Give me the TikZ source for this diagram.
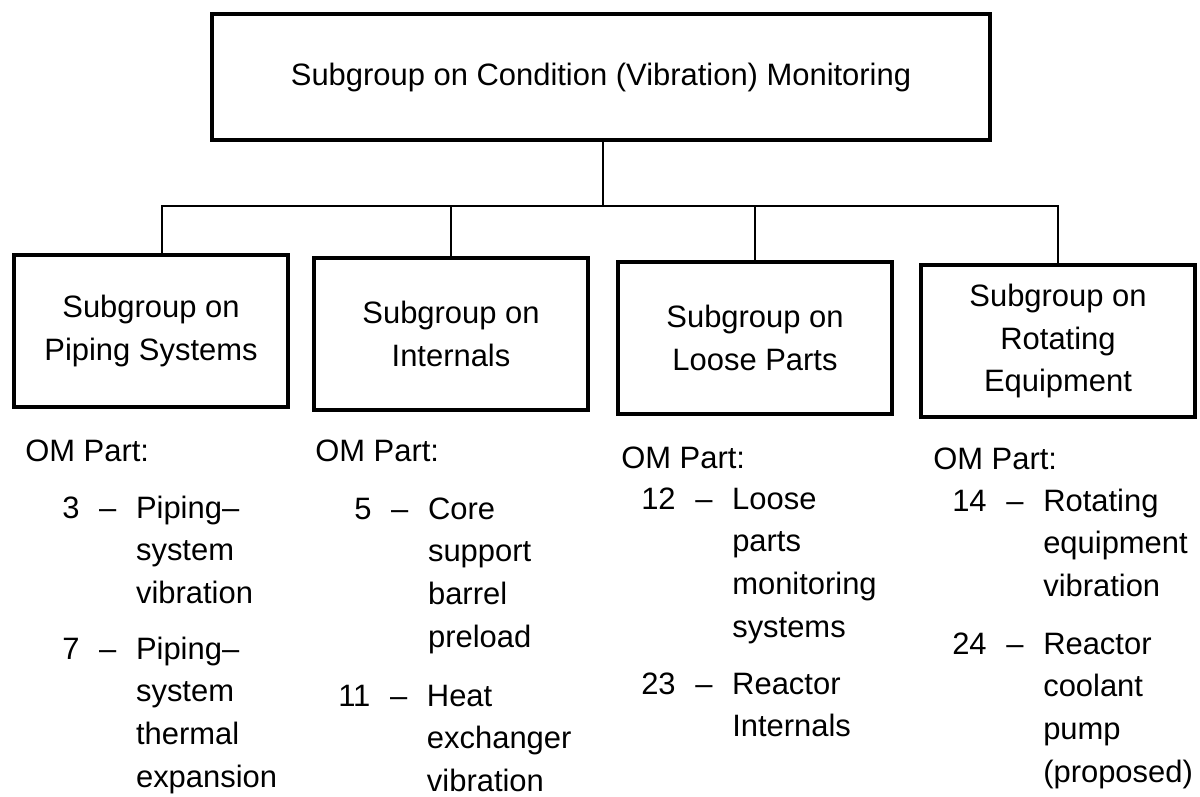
\documentclass[tikz,border=0pt]{standalone}
\usepackage{fontspec}
\setmainfont{Liberation Sans}
% one OM part entry: number, dash, and its lines of text
\newcommand{\omitem}[2]{\begin{tabular}[t]{@{}r@{\hspace{14pt}}c@{\hspace{14pt}}l@{}}#1 & -- & \begin{tabular}[t]{@{}l@{}}#2\end{tabular}\end{tabular}}
\begin{document}
\begin{tikzpicture}[x=0.025cm, y=-0.025cm,
    groupbox/.style={draw, line width=2.8pt, align=center, inner sep=0pt,
        font=\fontsize{22}{30.5}\selectfont},
    subbox/.style={groupbox, minimum width=6.85cm, minimum height=3.8cm},
    partlist/.style={anchor=base west, inner sep=0pt,
        font=\fontsize{22}{30.5}\selectfont},
    link/.style={line width=2.1pt}]
        \useasboundingbox (0,0) rectangle (1200,796);

        % Main subgroup
        \node[groupbox, minimum width=19.45cm, minimum height=3.15cm] (monitoring) at (601,77)
            {Subgroup on Condition (Vibration) Monitoring};

        % Subgroups
        \node[subbox] (piping) at (151,331) {Subgroup on\\Piping Systems};
        \node[subbox] (internals) at (451,334) {Subgroup on\\Internals};
        \node[subbox] (loose) at (755,338) {Subgroup on\\Loose Parts};
        \node[subbox] (rotating) at (1058,341) {Subgroup on\\Rotating\\Equipment};

        % Connectors
        \coordinate (junction) at (603,206);
        \draw[link] (monitoring.south -| junction) -- (junction);
        \draw[link] ([xshift=0.275cm]piping.north) |- (junction);
        \draw[link] (internals.north) |- (junction);
        \draw[link] (loose.north) |- (junction);
        \draw[link] (rotating.north) |- (junction);

        % OM parts: piping systems
        \node[partlist] (om-piping) at (25,461) {OM Part:};
        \node[partlist] (part3) at (62,518) {\omitem{3}{Piping--\\system\\vibration}};
        \node[partlist] (part7) at (62,659) {\omitem{7}{Piping--\\system\\thermal\\expansion}};

        % OM parts: internals
        \node[partlist] (om-internals) at (315,461) {OM Part:};
        \node[partlist] (part5) at (354,519) {\omitem{5}{Core\\support\\barrel\\preload}};
        \node[partlist] (part11) at (338,706) {\omitem{11}{Heat\\exchanger\\vibration}};

        % OM parts: loose parts
        \node[partlist] (om-loose) at (621,468) {OM Part:};
        \node[partlist] (part12) at (641,509) {\omitem{12}{Loose\\parts\\monitoring\\systems}};
        \node[partlist] (part23) at (641,694) {\omitem{23}{Reactor\\Internals}};

        % OM parts: rotating equipment
        \node[partlist] (om-rotating) at (933,469) {OM Part:};
        \node[partlist] (part14) at (952,511) {\omitem{14}{Rotating\\equipment\\vibration}};
        \node[partlist] (part24) at (952,654) {\omitem{24}{Reactor\\coolant\\pump\\(proposed)}};
\end{tikzpicture}
\end{document}
